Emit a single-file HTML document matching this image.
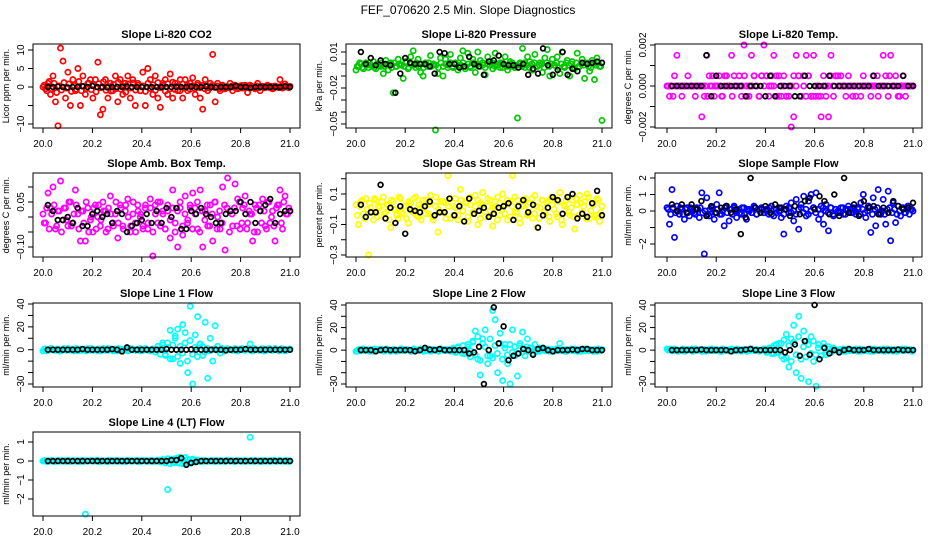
<!DOCTYPE html>
<html><head><meta charset="utf-8"><style>
body{margin:0;background:#fff}
svg{display:block;font-family:"Liberation Sans",Arial,sans-serif}
</style></head><body>
<svg id="chart" width="936" height="540" viewBox="0 0 936 540">
<text x="468" y="14" font-size="12" text-anchor="middle">FEF_070620  2.5 Min. Slope Diagnostics</text>
</svg>
<script>
// ---- data ----
const xTicks=[20.0,20.2,20.4,20.6,20.8,21.0];
const xTickLabels=["20.0","20.2","20.4","20.6","20.8","21.0"];
const co2Vals=[0,-0.5,1,-2,3,-4,-10.5,10.5,7,-3,4,-5,2,-1,5,-5,3,-2,1,2,-3,2,6.7,-7.5,-6,2,-3,1,-1,3,-4,2,-2,1,3,-3,2,-5,1,-1,4,-5,5,2,-2,3,-3,-5.5,1,2,-2,3.5,-3,1,-1,2,-3,2,-1,1,2.5,-2,1,-3,-6,2,-1,1,8.8,-4,1,-1,0.5,-0.5,0,1,-1,0.5,-0.5,0.3,-0.3,0.5,-1.5,0.5,0,-0.5,1,-1,0.2,-0.2,0.5,0,-0.5,0.3,0,2,-0.3,0.8,0,0.2];
const co2Band=[0.5,-1,1.5,-0.5,1,-1.5,0.3,-0.8,1.2,-0.3,0.8,-1.2,0.4,-0.6,1.5,-1,0.2,-0.4,1,-0.7,0.6,-1.3,0.9,-0.2,1.4,-0.9,0.1,-1.1,0.7,-0.5,1.3,-0.6,0.2,-1.4,0.8,-0.3,1.1,-0.8,0.5,-1,0.3,-1.2,1,-0.4,0.6,-0.9,1.2,-0.2,0.4,-1.1,0.9,-0.5,1.3,-0.7,0.2,-1,0.8,-0.3,0.5,-0.6,0.3,-0.4,0.5,-0.2,0.4,-0.5,0.2,-0.3,0.4,-0.1,0.3,-0.4,0.2,-0.3,0.1,-0.2,0.3,-0.1,0.2,-0.3,0.4,-0.2,0.1,-0.3,0.2,-0.1,0.3,-0.2,0.1,-0.2,0.3,-0.1,0.2,-0.3,0.1,-0.2,0.2,-0.1,0.3,-0.2];
const co2Black=[0,0,0.1,0,-0.1,0,0,0.2,0,0.3,0,0,-0.1,0,0,0,0.1,0,0,0,0,0,0,0,0,0,0,0,0,0.1,0,0,0.2,0,-0.1,0,0,0,0.3,0,0,-0.2,0,0,0,0,0,0,0.2,0];
const presVals=[-0.005,-0.002,0,-0.004,0.001,-0.003,-0.001,0.002,-0.004,0,-0.002,-0.008,0.003,-0.005,0.001,-0.024,-0.002,0.004,-0.001,-0.012,0.002,-0.004,0.006,0.011,-0.003,0.004,-0.007,-0.01,0.001,-0.002,0.007,-0.001,-0.055,-0.008,0.005,-0.01,0.004,-0.003,0.008,-0.002,0.001,-0.005,0.005,0.011,-0.004,0.009,-0.002,0.004,-0.007,0.01,0.003,-0.001,-0.009,0.006,0.002,-0.004,0.009,-0.001,0.001,-0.003,0.006,-0.005,0.002,-0.002,-0.003,-0.045,0.001,0.013,-0.003,0.006,0.002,-0.005,0.008,-0.002,0.001,-0.007,0.005,0.012,-0.01,0.004,-0.001,0.006,-0.008,0.01,-0.003,0.003,-0.01,0.002,-0.004,0.009,-0.002,0.004,-0.012,0.001,-0.006,0.003,-0.013,0.005,-0.002,-0.047];
const presBand=[-0.002,0.001,-0.003,0,-0.001,0.001,-0.002,-0.003,0,-0.001,0.001,-0.002,-0.001,0,-0.003,0.001,-0.002,0,-0.001,-0.002,0.001,-0.003,0,-0.001,0.001,-0.002,0,-0.003,-0.001,0.001,-0.002,0,-0.001,-0.003,0.001,-0.002,0,-0.001,0.001,-0.003,0,-0.002,-0.001,0.001,-0.002,0,-0.003,0.001,-0.001,0,-0.002,0.001,-0.003,0,-0.001,0.001,-0.002,0,-0.003,0.001,-0.001,-0.002,0,0.001,-0.003,-0.001,0,-0.002,0.001,-0.001,-0.003,0,0.001,-0.002,-0.001,0,-0.003,0.001,-0.002,0,-0.001,0.001,-0.003,0,-0.002,0.001,-0.001,0,-0.003,0.001,-0.002,0,-0.001,0.001,-0.002,-0.003,0,-0.001,0.001,-0.002];
const presBlack=[0.01,0,0.005,-0.001,0.003,0,-0.001,-0.024,-0.008,0.005,0.001,0,0,0,-0.002,-0.008,0.01,0.009,0,0,-0.003,-0.002,0.006,0,-0.002,-0.009,0.002,0.003,0.007,0,-0.001,-0.001,-0.003,0,-0.009,-0.004,-0.008,0.013,-0.001,-0.009,-0.005,0.01,-0.009,-0.004,-0.006,0.001,0,0.001,0.002,0.001];
const tempVals=[0,-0.0005,0,0.0005,0.0015,0,-0.0005,0,0,0,0,0,0,0,-0.0015,-0.0005,0.0015,0.0005,0,-0.0005,0,0.0005,-0.0005,0,0.0005,0,0.0015,0.0005,0,0.0005,-0.0005,0.002,0,-0.0005,0.0015,0.0005,0,-0.0005,0.0005,0.002,0.0005,-0.0005,0,0.0015,0.0005,-0.0005,0,0.0005,-0.0005,0,-0.002,-0.0015,0.0015,0.0005,-0.0005,0,0.0015,0.0005,-0.0005,0.0015,0,-0.0005,-0.0015,0.0005,-0.0005,-0.0015,0.0015,-0.0005,0.0005,0,0.0005,0,-0.0005,0.0005,0,0,-0.0005,0,-0.0005,0.0005,0,0,-0.0005,0.0005,0,-0.0005,0,0.0015,0.0005,-0.0005,0.0015,0,0.0005,-0.0005,0,0.0005,-0.0005,0,0,0];
const tempBand=[0,0,-0.0005,0,0,0,0,0,0.0005,0,0,-0.0005,0,0,0,0,-0.0005,0,0.0005,0,0,0,-0.0005,0.0005,0,0,-0.0005,0,0,0,0,0.0005,-0.0005,0,0,0.0005,0,-0.0005,0.0005,0,0.0005,0,0.0005,0,-0.0005,0.0005,-0.0005,0,-0.0005,-0.0005,0,0.0005,0,0.0005,-0.0005,0.0005,-0.0005,0.0005,-0.0005,-0.0005,-0.0005,0,-0.0005,0,0,0,0.0005,0,0.0005,0.0005,0,0,0,0,0,-0.0005,0,0,0,0,0,0,0,0,0,0.0005,0,0,0,0,0.0005,0,0,0,-0.0005,0,0,0,0,0];
const tempBlack=[0,0,0,0,0,0,0,0.0015,-0.0005,0.0005,0,0,0,0,0,-0.0005,0,0,0,-0.0005,0.0005,-0.0005,0,0,0,-0.0005,-0.0005,0.0005,0,0,0,0,0.0005,0,0,0,0,0,0,0,0,0.0005,0,0,0,0,0,0.0005,0,0];
const ambVals=[0.01,-0.02,0.08,0.03,0.1,-0.04,0.02,0.12,-0.01,0.03,-0.03,0.05,-0.02,0.09,0.01,-0.08,0.02,-0.08,0.03,-0.01,-0.05,0.04,0,-0.03,0.05,0.02,-0.04,0.07,-0.02,0.01,-0.07,0.04,-0.03,0.02,0.06,-0.05,0.01,-0.02,0.04,0,-0.03,0.03,-0.04,0.06,-0.13,0.04,-0.02,0.05,0.01,-0.04,0.02,-0.07,0.09,-0.02,-0.1,0.03,-0.06,0.07,-0.01,0.03,0.08,0.01,-0.04,0.09,-0.1,0.02,-0.03,0.04,-0.08,0.05,0,-0.04,0.1,-0.11,0.13,0.02,-0.03,0.11,0.06,-0.04,0.03,0.07,-0.02,0.01,-0.08,0.04,-0.05,0.02,0.06,-0.03,0.05,-0.02,0.02,-0.08,0.04,0.09,-0.04,0.07,0.01,0.02];
const ambBand=[-0.02,0.03,-0.04,0.01,0.04,-0.03,0.02,-0.05,0.03,-0.01,0.05,-0.03,0.01,0.04,-0.04,0.02,-0.02,0.05,-0.05,0,0.03,-0.04,0.04,-0.01,0.02,-0.05,0.03,0.01,-0.03,0.05,-0.02,0.03,-0.04,0.04,0,-0.03,0.05,-0.05,0.02,0.01,-0.04,0.04,-0.02,0.03,-0.05,0.01,0.05,-0.03,0.02,-0.04,0.04,-0.01,0.03,-0.05,0.02,0.05,-0.03,0.01,-0.02,0.04,-0.04,0.03,0.05,-0.05,0.02,-0.01,0.04,-0.03,0.01,0.05,-0.04,0.02,-0.02,0.04,0.03,-0.05,0.01,0.03,-0.03,0.05,-0.02,0.04,-0.04,0.02,0.01,-0.05,0.03,0.04,-0.02,0.02,-0.04,0.05,0,-0.03,0.03,0.04,-0.02,0.05,0.01,0.03];
const ambBlack=[0.04,0.02,-0.01,-0.01,0,-0.02,0.03,-0.03,-0.03,0.01,0.02,0,0.01,-0.02,0.02,0.01,-0.05,-0.03,-0.02,-0.01,0.01,-0.02,0.02,-0.02,0.03,0,0.03,-0.04,-0.04,0.02,0.01,0.03,0.01,0,-0.02,-0.02,0.01,0.02,0.02,0.05,0.01,0.05,-0.02,0.02,0.04,0.06,-0.02,0.01,0.02,0.02];
const rhVals=[0.03,-0.1,0.05,-0.03,0.07,-0.3,0.01,-0.07,0.06,0.02,-0.04,0.08,-0.02,0.03,-0.12,0.05,0,-0.06,0.07,-0.03,0.02,-0.09,0.04,-0.02,0.08,-0.05,0.01,0.06,-0.03,0.03,0.09,-0.07,0.02,-0.15,0.05,-0.02,0.04,0.22,-0.06,0.02,0.07,-0.04,0.13,-0.01,0.05,-0.08,0.03,-0.02,0.09,-0.1,0.04,0.11,-0.05,0.02,0.06,-0.11,0.01,0.08,-0.04,0.1,0.03,-0.07,0.05,0.22,-0.02,0.06,-0.09,0.02,0.07,-0.03,0.04,-0.06,0.09,-0.12,0.01,0.06,-0.02,0.05,-0.08,0.03,0.07,-0.05,0.11,-0.1,0.02,0.08,-0.04,0.06,-0.13,0.03,0.09,-0.02,0.05,0.1,-0.06,0.04,-0.05,0.07,-0.08,0.02];
const rhBand=[-0.04,0.02,0.06,-0.06,0,0.04,-0.02,0.07,-0.05,0.01,0.05,-0.03,0.03,-0.07,0.06,0,-0.04,0.08,-0.02,0.02,-0.06,0.05,-0.01,0.07,-0.04,0.03,-0.07,0.01,0.06,-0.03,0.04,-0.05,0.08,0,-0.02,0.05,-0.06,0.02,0.07,-0.04,0.01,-0.07,0.06,-0.01,0.04,-0.05,0.08,-0.03,0.02,0.06,-0.06,0.03,-0.02,0.07,-0.04,0.01,0.05,-0.07,0.04,0,-0.03,0.06,-0.05,0.02,0.08,-0.02,-0.06,0.03,0.05,-0.04,0.01,0.07,-0.03,0.02,-0.06,0.06,-0.01,0.04,-0.05,0.08,0,-0.03,0.05,-0.07,0.03,0.06,-0.02,0.01,-0.05,0.07,-0.04,0.04,0.02,-0.06,0.08,-0.01,0.03,-0.04,0.06,-0.02];
const rhBlack=[0.03,-0.05,-0.02,-0.02,0.16,-0.06,0.01,-0.09,0.02,-0.16,0,-0.01,-0.02,0.02,0.05,-0.04,-0.02,-0.02,0.07,-0.04,0.02,-0.08,0.07,-0.03,-0.01,0.01,-0.05,-0.03,0.01,0.02,0.04,-0.07,0.02,0.06,-0.02,0.03,-0.12,-0.04,0.01,0.08,0.06,-0.03,0.08,0.1,-0.06,-0.03,-0.05,0.04,0.12,-0.04];
const sampleVals=[0.2,-0.8,1.3,-1.6,0.3,-0.2,0.1,-0.5,0.2,-0.3,0.1,-0.1,0.2,-0.4,1.1,-2.6,0.8,-0.3,0.2,-0.5,0.4,1.1,-0.2,-0.9,0.3,-0.6,0.1,0.3,-0.4,0.1,-0.2,0.2,-0.5,0.1,-0.1,0.3,-0.2,0.1,0.2,-0.1,0.1,-0.2,0.3,-0.3,0.1,0.2,-0.4,-1.4,0.3,-0.1,0.5,-0.6,0.7,-1.1,0.4,0.9,-0.3,0.6,1.0,0.2,1.1,-0.5,0.3,-0.8,0.4,-1.2,0.2,-0.3,0.1,-0.1,0.2,-0.2,0.1,0.3,-0.1,0.2,-0.2,0.1,0.5,1.0,-0.4,0.3,-1.3,0.8,-0.9,1.3,-0.2,0.7,-0.8,1.2,-1.8,0.5,-0.7,0.3,-0.3,0.2,-0.1,0.3,0.1,0];
const sampleBand=[0.1,-0.2,0.2,-0.1,0,0.2,-0.2,0.1,-0.1,0.2,0,-0.2,0.1,0.2,-0.1,0,-0.2,0.1,0.2,-0.1,0.1,-0.2,0,0.2,-0.1,0.1,-0.2,0.2,0,-0.1,0.2,-0.2,0.1,0,-0.1,0.2,-0.2,0.1,0.1,-0.1,0,0.2,-0.2,0.1,-0.1,0,0.2,-0.2,0.1,0.2,-0.1,0,-0.2,0.1,0.2,-0.1,0.1,-0.2,0,0.2,-0.1,0.1,-0.2,0.2,0,-0.1,0.2,-0.2,0.1,0,-0.1,0.2,-0.2,0.1,0.1,-0.1,0,0.2,-0.2,0.1,-0.1,0,0.2,-0.2,0.1,0.2,-0.1,0,-0.2,0.1,0.2,-0.1,0.1,-0.2,0,0.2,-0.1,0.1,-0.2,0.1];
const sampleBlack=[0.4,0,0.4,-0.1,0.4,0.1,0.6,-0.3,0.3,-0.1,0.2,0.3,-0.1,0.1,-1.4,-0.4,2,0.2,-0.1,0.3,-0.1,0.4,0.2,0.1,-0.3,0.3,-0.2,0.6,0.8,0.1,0.9,0.6,-0.2,1,-0.3,2,-0.1,0.4,-0.3,0.6,0.2,0.3,-0.2,0.2,-0.1,0.6,0.3,0.1,0.2,0.5];
const line1Vals=[-1,0.5,-0.5,1,0,-0.5,0.5,-1,0.5,0,1,-0.5,0,0.5,-1,0.5,0,-0.5,1,-0.5,0.5,0,-1,0.5,0,-0.5,1,0,-0.5,0.5,-1,0.5,0,-0.5,1,0,0.5,-0.5,0,1,-0.5,0.5,0,-1,0.5,0,-0.5,1,4,-4,6,17,-8,10,18,-12,22,15,-20,38,-30,13,29,5,-5,24,-25,10,-10,21,3,-3,1,-1,0.5,0,-0.5,1,-1,0.5,0,-0.5,1,5,-1,0.5,0,-0.5,1,-1,0.5,0,-0.5,1,0,-0.5,0.5,-1,0,0.5];
const line1Band=[0.5,-1,0,1,-0.5,0.5,-1,0,1,-0.5,0,0.5,-1,1,0,-0.5,0.5,-1,0,1,-0.5,0,0.5,-1,1,0,-0.5,0.5,-1,0,1,-0.5,0,0.5,-1,1,0,-0.5,0.5,-1,0,1,-0.5,0,0.5,-2,3,-4,6,-5,2,-8,4,12,-6,3,-3,6,-10,8,-4,2,-6,5,3,-2,1,-1,0,1,-0.5,0,0.5,-1,1,0,-0.5,0.5,-1,0,1,-0.5,0,0.5,-1,1,0,-0.5,0.5,-1,0,1,-0.5,0,0.5,-1,1,0,-0.5,0.5];
const line1Black=[0,0,0,0,0,0,0,0.5,0,0,0,0,0,0.5,0,-1.5,2,0,0,0,0,0,0,0,0.5,0,0,0,0,0.3,0,0,0,0,0,0,-0.5,0,0,0,0.5,0,0,0,0,0,0,0,0,0];
const line2Vals=[-1,0.5,-0.5,1,0,-0.5,0.5,-1,0.5,0,1,-0.5,0,0.5,-1,0.5,0,-0.5,1,-0.5,0.5,0,-1,0.5,0,-0.5,1,0,-0.5,0.5,-1,0.5,0,-0.5,1,0,0.5,-0.5,0,1,-0.5,2,0,-3,0.5,3,-0.5,7,17,-8,-22,10,18,-12,-5,35,27,-20,15,-27,5,-12,-30,18,-5,-23,6,16,-5,10,2,-3,5,-1,2,0,-0.5,1,-1,0.5,0,-0.5,6,0,-1,0.5,0,-0.5,1,-1,0.5,0,-0.5,1,0,-0.5,0.5,-1,0,0.5];
const line2Band=[-1,0,1,-0.5,0.5,-1,0,1,-0.5,0.5,0,-1,1,0,-0.5,0.5,-1,0,1,-0.5,0.5,0,-1,1,0,-0.5,0.5,-1,0,1,-0.5,0.5,0,-1,1,0,-0.5,0.5,-1,2,-2,3,-1,4,-3,5,-6,8,-4,12,-9,6,3,-5,10,-7,4,-3,6,-8,2,-4,5,-2,3,-3,4,-2,1,3,-1,2,-0.5,0.5,-1,0,1,-0.5,0.5,0,-1,1,0,-0.5,0.5,-1,0,1,-0.5,0.5,0,-1,1,0,-0.5,0.5,-1,0,1,-0.5];
const line2Black=[0,0,0,-1,0,0.5,0,0,0,0,0,-1,0,2,0.5,0,1,0,0,0,0,0,-3,-2,3,-30,0,38,6,21,-9,-5,-3,1,0,-4,1,2,0,-1,0,0,0,0.5,0,1,1,0,0,0];
const line3Vals=[1,0.5,-0.5,1,0,-0.5,0.5,-1,0.5,0,1,-0.5,0,0.5,-1,0.5,0,-0.5,1,-0.5,0.5,0,-1,0.5,0,-0.5,1,0,-0.5,0.5,-1,0.5,0,-0.5,1,0,0.5,-0.5,0,1,-0.5,0.5,2,-3,5,-2,6,-8,14,-15,10,22,-20,30,-25,17,8,-28,12,-10,-32,5,-5,6,-4,3,-2,1,0.5,0,-0.5,1,-1,0.5,0,-0.5,1,0,-1,0.5,0,-0.5,1,-1,0.5,0,-0.5,1,0,-0.5,0.5,-1,0,0.5,0,-0.5,1,0,0.5,0];
const line3Band=[0,1,-0.5,0.5,-1,0,1,-0.5,0.5,0,-1,1,0,-0.5,0.5,-1,0,1,-0.5,0.5,0,-1,1,0,-0.5,0.5,-1,0,1,-0.5,0.5,0,-1,1,0,-0.5,0.5,-1,0,1,-2,2,-3,4,-2,6,-5,9,-7,4,-10,7,-4,12,-8,3,-6,5,-3,8,-4,2,-5,3,-2,1,-1,2,0,-0.5,0.5,-1,0,1,-0.5,0.5,0,-1,1,0,-0.5,0.5,-1,0,1,-0.5,0.5,0,-1,1,0,-0.5,0.5,-1,0,1,-0.5,0.5,0,-1];
const line3Black=[0,0,0,0,0,0,0.5,0,0,0,0,0,-1,0,0,0.5,1,0,0,0,0,0,0,-2,0,5,-5,8,-4,40,-8,2,-3,0,-2,0,1,0,0,0,1,0,0,0,0,0,0.5,0,0,0];
const line4Vals=[0,0.02,-0.03,0.01,0,-0.02,0.03,0,-0.01,0.02,0,-0.03,0.02,0,0.01,-0.02,0.03,-2.8,0,0.02,-0.01,0,0.03,-0.02,0.01,0,-0.03,0.02,0,-0.01,0.02,0,-0.02,0.01,0.03,0,-0.01,0.02,-0.03,0,0.01,0.02,-0.02,0,0.03,-0.01,0,0.02,-0.02,0.01,-1.5,0.05,-0.08,0.12,-0.1,0.2,-0.15,0.18,0.08,-0.12,0.1,-0.06,0.05,-0.03,0.02,0,-0.02,0.01,0.03,0,-0.01,0.02,0,-0.03,0.02,0,0.01,-0.02,0.03,0,0.01,-0.02,0,1.25,-0.01,0.02,0,-0.03,0.02,0,0.01,-0.02,0.03,0,-0.01,0.02,0,-0.02,0.01,0];
const line4Band=[0.02,-0.02,0,0.03,-0.03,0.01,-0.01,0.02,0,-0.02,0.03,-0.01,0.01,0,-0.03,0.02,-0.02,0.01,0,0.03,-0.01,0.02,-0.03,0,0.01,-0.02,0.02,0,-0.01,0.03,-0.02,0.01,0,-0.03,0.02,-0.01,0.01,0,0.03,-0.02,0.02,-0.01,0,0.03,-0.03,0.01,0.05,-0.06,0.08,-0.1,0.12,-0.14,0.1,-0.08,0.15,-0.12,0.06,-0.1,0.08,-0.05,0.04,-0.03,0.02,0,-0.02,0.03,-0.01,0.01,0,-0.03,0.02,-0.02,0.01,0,0.03,-0.01,0.02,-0.03,0,0.01,-0.02,0.02,0,-0.01,0.03,-0.02,0.01,0,-0.03,0.02,-0.01,0.01,0,0.03,-0.02,0.02,-0.01,0,0.03,-0.03];
const line4Black=[0,0,0,0,0,0,0,0,0,0,0,0,0,0,0,0,0,0,0,0,0,0,0,0,0,0.05,0.05,0.15,-0.2,-0.1,-0.05,0,0,0,0,0,0,0,0,0,0,0,0,0,0,0,0,0,0,0];
// ---- layout ----
const cols=[{l:33,r:300,x0:43,x1:290},{l:346,r:612,x0:356,x1:602},{l:655,r:922,x0:667,x1:913}];
const rows=[44,173,303,432];
const panels=[
 {name:"co2",title:"Slope Li-820 CO2",ylab:"Licor ppm per min.",c:0,r:0,color:"#ff0000",vals:co2Vals,band:co2Band,blk:co2Black,y0:10,y0p:50,y1:-10,y1p:124,ticks:[-10,-5,0,5,10],labels:["−10","","0","5","10"]},
 {name:"pressure",title:"Slope Li-820 Pressure",ylab:"kPa per min.",c:1,r:0,color:"#00c800",vals:presVals,band:presBand,blk:presBlack,y0:0.01,y0p:52,y1:-0.05,y1p:124,ticks:[0.01,0,-0.01,-0.02,-0.03,-0.04,-0.05],labels:["0.01","","","−0.02","","","−0.05"]},
 {name:"temp",title:"Slope Li-820 Temp.",ylab:"degrees C per min.",c:2,r:0,color:"#ff00ff",vals:tempVals,band:tempBand,blk:tempBlack,y0:0.002,y0p:45,y1:-0.002,y1p:127,ticks:[0.002,0.001,0,-0.001,-0.002],labels:["0.002","","0.000","","−0.002"]},
 {name:"amb-box-temp",title:"Slope Amb. Box Temp.",ylab:"degrees C per min.",c:0,r:1,color:"#ff00ff",vals:ambVals,band:ambBand,blk:ambBlack,y0:0.05,y0p:202,y1:-0.10,y1p:247,ticks:[0.1,0.05,0,-0.05,-0.1],labels:["","0.05","","","−0.10"]},
 {name:"gas-rh",title:"Slope Gas Stream RH",ylab:"percent per min.",c:1,r:1,color:"#ffff00",vals:rhVals,band:rhBand,blk:rhBlack,y0:0.1,y0p:194,y1:-0.3,y1p:255,ticks:[0.2,0.1,0,-0.1,-0.2,-0.3],labels:["","0.1","","−0.1","","−0.3"]},
 {name:"sample-flow",title:"Slope Sample Flow",ylab:"ml/min per min.",c:2,r:1,color:"#0000ff",vals:sampleVals,band:sampleBand,blk:sampleBlack,y0:2,y0p:178,y1:-2,y1p:244,ticks:[2,1,0,-1,-2],labels:["2","1","0","","−2"]},
 {name:"line1-flow",title:"Slope Line 1 Flow",ylab:"ml/min per min.",c:0,r:2,color:"#00ffff",vals:line1Vals,band:line1Band,blk:line1Black,y0:40,y0p:304,y1:-30,y1p:384,ticks:[40,30,20,10,0,-10,-20,-30],labels:["40","","20","","0","","","−30"]},
 {name:"line2-flow",title:"Slope Line 2 Flow",ylab:"ml/min per min.",c:1,r:2,color:"#00ffff",vals:line2Vals,band:line2Band,blk:line2Black,y0:40,y0p:305,y1:-30,y1p:384,ticks:[40,30,20,10,0,-10,-20,-30],labels:["40","","20","","0","","","−30"]},
 {name:"line3-flow",title:"Slope Line 3 Flow",ylab:"ml/min per min.",c:2,r:2,color:"#00ffff",vals:line3Vals,band:line3Band,blk:line3Black,y0:40,y0p:305,y1:-30,y1p:384,ticks:[40,30,20,10,0,-10,-20,-30],labels:["40","","20","","0","","","−30"]},
 {name:"line4-flow",title:"Slope Line 4 (LT) Flow",ylab:"ml/min per min.",c:0,r:3,color:"#00ffff",vals:line4Vals,band:line4Band,blk:line4Black,y0:1,y0p:442,y1:-2,y1p:499,ticks:[1,0,-1,-2],labels:["1","0","−1","−2"]}
];
const NS="http://www.w3.org/2000/svg";
const svg=document.getElementById("chart");
function mk(tag,attrs,parent,txt){const e=document.createElementNS(NS,tag);for(const k in attrs)e.setAttribute(k,attrs[k]);if(txt!==undefined)e.textContent=txt;parent.appendChild(e);return e;}
panels.forEach(p=>{
 const col=cols[p.c],top=rows[p.r],bot=top+84;
 const g=mk("g",{},svg);
 
 
 const xs=v=>col.x0+(v-20)*(col.x1-col.x0);
 const ys=v=>p.y0p+(v-p.y0)/(p.y1-p.y0)*(p.y1p-p.y0p);
 const t=mk("text",{x:(col.l+col.r)/2,y:top-6,"font-size":"11","font-weight":"bold","text-anchor":"middle"},g,p.title);
 
 
 const yl=mk("text",{transform:`translate(${col.l-24},${(top+bot)/2}) rotate(-90)`,"font-size":"9","text-anchor":"middle"},g,p.ylab);
 
 
 const pts=mk("g",{fill:"none","stroke-width":"1.7"},g);
 
 
 const nb=p.band.length;
 p.band.forEach((v,i)=>{
  const c=mk("circle",{cx:xs(20+(i+0.5)/nb).toFixed(1),cy:ys(v).toFixed(1),r:"2.6",stroke:p.color},pts);
  
  
 });
 const n=p.vals.length;
 p.vals.forEach((v,i)=>{
  const c=mk("circle",{cx:xs(20+i/(n-1)).toFixed(1),cy:ys(v).toFixed(1),r:"2.6",stroke:p.color},pts);
  
  
 });
 const m=p.blk.length;
 p.blk.forEach((v,j)=>{
  const c=mk("circle",{cx:xs(20+(j+1)/m).toFixed(1),cy:ys(v).toFixed(1),r:"2.4",stroke:"#000"},pts);
  
  
 });
 const box=mk("rect",{x:col.l,y:top,width:col.r-col.l,height:84,fill:"none",stroke:"#000","stroke-width":"1"},g);
 
 
 xTicks.forEach((v,i)=>{
  const x=xs(v);
  mk("line",{x1:x,x2:x,y1:bot,y2:bot+5,stroke:"#000"},g);
  const lb=mk("text",{x:x,y:bot+19,"font-size":"10","text-anchor":"middle"},g,xTickLabels[i]);
  
  
 });
 p.ticks.forEach((v,i)=>{
  const y=ys(v);
  mk("line",{x1:col.l-5,x2:col.l,y1:y,y2:y,stroke:"#000"},g);
  if(p.labels[i]){
   const lb=mk("text",{transform:`translate(${col.l-9},${y}) rotate(-90)`,"font-size":"10","text-anchor":"middle"},g,p.labels[i]);
   
   
  }
 });
});
</script>
</body></html>
